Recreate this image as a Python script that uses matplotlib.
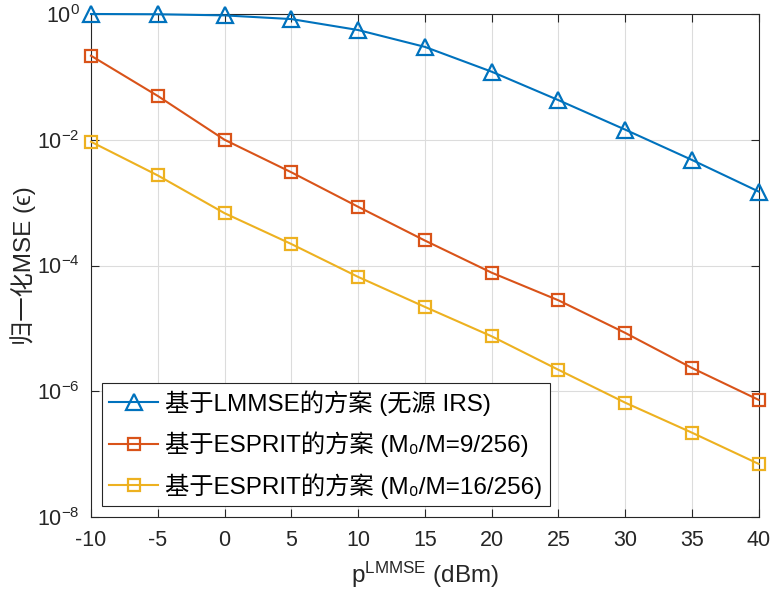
import matplotlib
matplotlib.use("Agg")
import matplotlib.pyplot as plt
import numpy as np

plt.rcParams['font.family'] = ['Liberation Sans', 'Noto Sans CJK SC', 'DejaVu Sans']
plt.rcParams['mathtext.fontset'] = 'custom'
plt.rcParams['mathtext.rm'] = 'Liberation Sans'
plt.rcParams['mathtext.it'] = 'Liberation Sans:italic'
plt.rcParams['axes.unicode_minus'] = False

x = [-10, -5, 0, 5, 10, 15, 20, 25, 30, 35, 40]
lmmse = [1.0, 0.99, 0.95, 0.83, 0.556, 0.30, 0.121, 0.0427, 0.0145, 0.00478, 0.00150]
esprit9 = [0.217, 0.0497, 0.0100, 0.00304, 8.6e-4, 2.5e-4, 7.7e-5, 2.8e-5, 8.5e-6, 2.35e-6, 7.3e-7]
esprit16 = [0.0093, 0.00271, 6.8e-4, 2.2e-4, 6.6e-5, 2.2e-5, 7.5e-6, 2.2e-6, 6.6e-7, 2.2e-7, 7.0e-8]

labels = ['基于LMMSE的方案 (无源 IRS)',
          '基于ESPRIT的方案 (M\u2080/M=9/256)',
          '基于ESPRIT的方案 (M\u2080/M=16/256)']
colors = ['#0072BD', '#D95319', '#EDB120']
xticks = [-10, -5, 0, 5, 10, 15, 20, 25, 30, 35, 40]
yticks = [1e-8, 1e-6, 1e-4, 1e-2, 1e0]
ytick_labels = ['10$^{-8}$', '10$^{-6}$', '10$^{-4}$', '10$^{-2}$', '10$^{0}$']

fig = plt.figure(figsize=(7.71, 5.95), dpi=100)
ax = fig.add_axes([0.118, 0.131, 0.866, 0.8455])

ax.plot(x, lmmse, color=colors[0], marker='^', markersize=11, markerfacecolor='none',
        markeredgewidth=1.6, linewidth=1.5, label=labels[0], clip_on=False, zorder=3)
ax.plot(x, esprit9, color=colors[1], marker='s', markersize=8.5, markerfacecolor='none',
        markeredgewidth=1.6, linewidth=1.5, label=labels[1], clip_on=False, zorder=3)
ax.plot(x, esprit16, color=colors[2], marker='s', markersize=8.5, markerfacecolor='none',
        markeredgewidth=1.6, linewidth=1.5, label=labels[2], clip_on=False, zorder=3)

ax.set_yscale('log')
ax.set_xlim(-10, 40)
ax.set_ylim(1e-8, 1.0)
ax.set_xticks(xticks)
ax.set_xticklabels([str(v) for v in xticks])
ax.set_yticks(yticks)
ax.set_yticklabels(ytick_labels)
ax.yaxis.set_minor_locator(matplotlib.ticker.NullLocator())
ax.grid(True, color='#dcdcdc', linewidth=0.8)
ax.set_axisbelow(True)
ax.tick_params(direction='in', top=True, right=True, labelsize=15.5, colors='#262626',
               length=6, width=0.8)
ax.tick_params(axis='x', pad=9)
ax.tick_params(axis='y', pad=8)
for s in ax.spines.values():
    s.set_color('#262626')
    s.set_linewidth(0.8)

ax.set_xlabel('p$^{\\mathrm{LMMSE}}$ (dBm)', fontsize=17.5, color='#262626', labelpad=7)
ax.set_ylabel('归一化MSE (\u03f5)', fontsize=17.5, color='#262626', labelpad=1)

leg = ax.legend(loc='lower left', fontsize=17.5, frameon=True, fancybox=False,
                edgecolor='#262626', framealpha=1, borderaxespad=0.45,
                handlelength=2.0, handletextpad=0.3, labelspacing=0.65,
                borderpad=0.3)
leg.get_frame().set_linewidth(0.8)
leg.set_zorder(5)

fig.savefig('out.png', dpi=100)
